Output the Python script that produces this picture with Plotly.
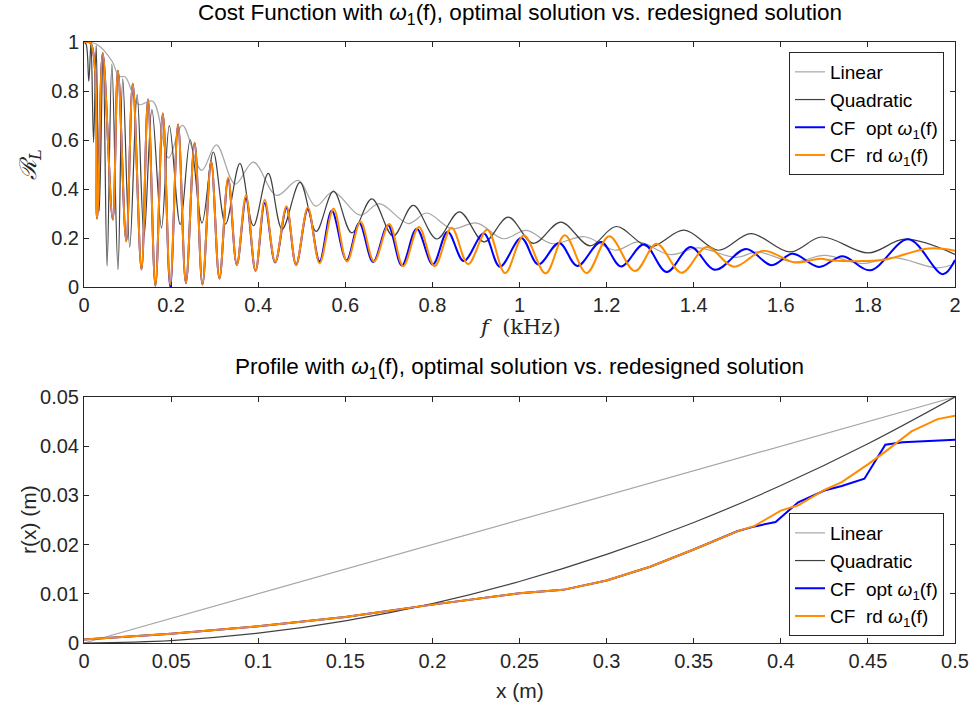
import plotly.graph_objects as go

# ---------------- top panel data (kHz, R_L) : extrema ----------------
f_lin = [0, 0.03, 0.065, 0.08, 0.095, 0.125, 0.158, 0.194, 0.226, 0.27, 0.304, 0.347, 0.389,
         0.442, 0.492, 0.532, 0.572, 0.634, 0.678, 0.745, 0.787, 0.844, 0.902, 0.963, 1.016,
         1.074, 1.15, 1.22, 1.273, 1.346, 1.41, 1.497, 1.547, 1.63, 1.7, 1.786, 1.86, 1.96, 2.0]
R_lin = [1.0, 0.99, 0.92, 0.86, 0.857, 0.745, 0.758, 0.527, 0.66, 0.476, 0.58, 0.42, 0.51,
         0.374, 0.435, 0.33, 0.388, 0.293, 0.34, 0.259, 0.302, 0.238, 0.261, 0.197, 0.231,
         0.177, 0.205, 0.15, 0.184, 0.132, 0.16, 0.121, 0.143, 0.102, 0.129, 0.096, 0.12, 0.078, 0.095]

f_quad = [0, 0.005, 0.011, 0.016, 0.022, 0.028, 0.035, 0.044, 0.053, 0.064, 0.078, 0.089, 0.105,
          0.122, 0.138, 0.156, 0.178, 0.196, 0.221, 0.244, 0.271, 0.297, 0.325, 0.358, 0.389,
          0.423, 0.455, 0.496, 0.533, 0.573, 0.615, 0.661, 0.71, 0.756, 0.81, 0.862, 0.919,
          0.974, 1.032, 1.095, 1.162, 1.222, 1.298, 1.378, 1.457, 1.531, 1.621, 1.694, 1.801,
          1.885, 2.0]
R_quad = [1.0, 0.99, 0.84, 0.995, 0.59, 0.985, 0.31, 0.95, 0.085, 0.91, 0.071, 0.85, 0.163,
          0.785, 0.207, 0.724, 0.241, 0.659, 0.255, 0.601, 0.261, 0.551, 0.257, 0.505, 0.25,
          0.464, 0.236, 0.427, 0.227, 0.391, 0.221, 0.36, 0.208, 0.333, 0.196, 0.307, 0.184,
          0.285, 0.178, 0.265, 0.168, 0.247, 0.163, 0.232, 0.15, 0.218, 0.143, 0.204, 0.139,
          0.195, 0.133]

f_opt = [0, 0.015, 0.03, 0.043, 0.066, 0.078, 0.097, 0.112, 0.132, 0.147, 0.164, 0.181, 0.198,
         0.216, 0.234, 0.254, 0.272, 0.292, 0.311, 0.331, 0.351, 0.372, 0.394, 0.415, 0.439,
         0.465, 0.487, 0.514, 0.541, 0.569, 0.603, 0.632, 0.664, 0.698, 0.73, 0.764, 0.801,
         0.835, 0.872, 0.918, 0.955, 1.004, 1.043, 1.091, 1.133, 1.187, 1.233, 1.286, 1.338,
         1.393, 1.449, 1.52, 1.579, 1.627, 1.688, 1.742, 1.805, 1.893, 1.972, 2.0]
R_opt = [1.0, 0.995, 0.28, 0.955, 0.275, 0.883, 0.187, 0.83, 0.071, 0.765, 0.005, 0.708, 0.0,
         0.663, 0.016, 0.588, 0.01, 0.512, 0.035, 0.44, 0.09, 0.362, 0.066, 0.343, 0.1,
         0.322, 0.091, 0.318, 0.105, 0.311, 0.109, 0.261, 0.102, 0.252, 0.088, 0.238, 0.092,
         0.226, 0.106, 0.218, 0.083, 0.2, 0.092, 0.18, 0.086, 0.184, 0.084, 0.174, 0.061,
         0.163, 0.07, 0.155, 0.089, 0.136, 0.082, 0.126, 0.068, 0.195, 0.052, 0.11]

f_rd = [0, 0.015, 0.03, 0.043, 0.066, 0.078, 0.097, 0.112, 0.132, 0.147, 0.164, 0.181, 0.198,
        0.216, 0.234, 0.254, 0.272, 0.292, 0.311, 0.331, 0.351, 0.372, 0.394, 0.415, 0.439,
        0.465, 0.487, 0.514, 0.541, 0.573, 0.604, 0.635, 0.666, 0.701, 0.733, 0.769, 0.805,
        0.844, 0.882, 0.926, 0.967, 1.01, 1.06, 1.104, 1.154, 1.206, 1.265, 1.315, 1.372,
        1.43, 1.492, 1.56, 1.632, 1.69, 1.72, 1.79, 1.84, 1.94, 2.0]
R_rd = [1.0, 0.995, 0.28, 0.955, 0.275, 0.883, 0.187, 0.83, 0.071, 0.765, 0.005, 0.708, 0.01,
        0.663, 0.016, 0.588, 0.01, 0.512, 0.035, 0.447, 0.09, 0.376, 0.066, 0.356, 0.102,
        0.33, 0.091, 0.325, 0.097, 0.319, 0.104, 0.266, 0.104, 0.257, 0.085, 0.245, 0.085,
        0.242, 0.094, 0.234, 0.057, 0.21, 0.056, 0.211, 0.057, 0.207, 0.065, 0.177, 0.058,
        0.163, 0.083, 0.148, 0.1, 0.115, 0.108, 0.106, 0.112, 0.157, 0.148]

# ---------------- bottom panel data (x in m, r in m) ----------------
x_lin = [0, 0.5]
r_lin = [0.0, 0.05]

x_quad = [0, 0.05, 0.1, 0.15, 0.2, 0.25, 0.3, 0.35, 0.4, 0.45, 0.5]
r_quad = [0.0, 0.0005, 0.002, 0.0045, 0.008, 0.0125, 0.018, 0.0245, 0.032, 0.0405, 0.05]

x_opt = [0, 0.05, 0.1, 0.15, 0.2, 0.25, 0.275, 0.3, 0.325, 0.35, 0.375, 0.385, 0.397, 0.41,
         0.425, 0.435, 0.448, 0.46, 0.47, 0.485, 0.5]
r_opt = [0.0007, 0.0019, 0.0034, 0.0053, 0.0078, 0.0101, 0.0108, 0.0127, 0.0155, 0.019, 0.0227,
         0.0237, 0.0246, 0.0286, 0.031, 0.0319, 0.0334, 0.0403, 0.0408, 0.041, 0.0413]

x_rd = [0, 0.05, 0.1, 0.15, 0.2, 0.25, 0.275, 0.3, 0.325, 0.35, 0.375, 0.385, 0.4, 0.41,
        0.425, 0.435, 0.45, 0.46, 0.475, 0.49, 0.5]
r_rd = [0.0007, 0.0019, 0.0034, 0.0053, 0.0078, 0.0101, 0.0108, 0.0127, 0.0155, 0.019, 0.0227,
        0.0238, 0.0269, 0.028, 0.0311, 0.0327, 0.0363, 0.0389, 0.043, 0.0455, 0.0462]

x_ticks_top = [0, 0.2, 0.4, 0.6, 0.8, 1, 1.2, 1.4, 1.6, 1.8, 2]
y_ticks_top = [0, 0.2, 0.4, 0.6, 0.8, 1]
x_ticks_bot = [0, 0.05, 0.1, 0.15, 0.2, 0.25, 0.3, 0.35, 0.4, 0.45, 0.5]
y_ticks_bot = [0, 0.01, 0.02, 0.03, 0.04, 0.05]

names = ["Linear", "Quadratic", "CF  opt <i>ω</i><sub>1</sub>(f)", "CF  rd <i>ω</i><sub>1</sub>(f)"]
colors = ["#a6a6a6", "#404040", "#0000ff", "#ff8c00"]
widths = [1.2, 1.2, 2.0, 2.0]

W, H = 973, 713
L, R, T, B = 84, 18, 42, 70
PW, PH = W - L - R, H - T - B


def px(x):
    return (x - L) / PW


def py(y):
    return (H - B - y) / PH


fig = go.Figure()
top = [(f_lin, R_lin), (f_quad, R_quad), (f_opt, R_opt), (f_rd, R_rd)]
bot = [(x_lin, r_lin), (x_quad, r_quad), (x_opt, r_opt), (x_rd, r_rd)]
for i, (xx, yy) in enumerate(top):
    fig.add_trace(go.Scatter(x=xx, y=yy, mode="lines", name=names[i],
                             line=dict(color=colors[i], width=widths[i], shape="spline", smoothing=1.0),
                             xaxis="x", yaxis="y", legend="legend"))
for i, (xx, yy) in enumerate(bot):
    shape = "spline" if i == 1 else "linear"
    fig.add_trace(go.Scatter(x=xx, y=yy, mode="lines", name=names[i],
                             line=dict(color=colors[i], width=widths[i], shape=shape),
                             xaxis="x2", yaxis="y2", legend="legend2"))

axcol = "#262626"
font = "Liberation Sans, Arial, sans-serif"
common = dict(showline=True, linecolor=axcol, linewidth=1, mirror="allticks", ticks="inside",
              ticklen=5, tickcolor=axcol, showgrid=False, zeroline=False, automargin=False,
              tickfont=dict(family=font, size=20, color=axcol))

fig.update_layout(
    width=W, height=H, margin=dict(l=L, r=R, t=T, b=B, autoexpand=False),
    plot_bgcolor="white", paper_bgcolor="white",
    xaxis=dict(domain=[0, 1], range=[0, 2], tickvals=x_ticks_top, anchor="y", **common),
    yaxis=dict(domain=[py(287), 1], range=[0, 1], tickvals=y_ticks_top, anchor="x", **common),
    xaxis2=dict(domain=[0, 1], range=[0, 0.5], tickvals=x_ticks_bot, anchor="y2", **common),
    yaxis2=dict(domain=[0, py(397)], range=[0, 0.05], tickvals=y_ticks_bot, anchor="x2", **common),
    legend=dict(x=px(789), y=py(52), xanchor="left", yanchor="top", bgcolor="white",
                bordercolor=axcol, borderwidth=1, font=dict(family=font, size=19, color="#000000"),
                tracegroupgap=0),
    legend2=dict(x=px(789), y=py(513), xanchor="left", yanchor="top", bgcolor="white",
                 bordercolor=axcol, borderwidth=1, font=dict(family=font, size=19, color="#000000"),
                 tracegroupgap=0),
    showlegend=True,
)

ann = [
    dict(text="Cost Function with <i>ω</i><sub>1</sub>(f), optimal solution vs. redesigned solution",
         x=0.5, y=py(14), font=dict(family=font, size=22.5, color="#000000")),
    dict(text="Profile with <i>ω</i><sub>1</sub>(f), optimal solution vs. redesigned solution",
         x=0.5, y=py(368), font=dict(family=font, size=22.5, color="#000000")),
    dict(text="<i>f</i>  (kHz)", x=0.5, y=py(327),
         font=dict(family="DejaVu Serif, serif", size=21, color=axcol)),
    dict(text="<i>ℛ</i><sub><i>L</i></sub>", x=px(30), y=py(165), textangle=-90,
         font=dict(family="DejaVu Serif, serif", size=23, color=axcol)),
    dict(text="x (m)", x=0.5, y=py(690), font=dict(family=font, size=21, color=axcol)),
    dict(text="r(x) (m)", x=px(28), y=py(520), textangle=-90,
         font=dict(family=font, size=21, color=axcol)),
]
for a in ann:
    fig.add_annotation(xref="paper", yref="paper", showarrow=False, xanchor="center",
                       yanchor="middle", **a)

fig.write_html("out.html", config={"displayModeBar": False},
               post_script="document.body.style.margin='0';document.body.style.overflow='hidden';")
